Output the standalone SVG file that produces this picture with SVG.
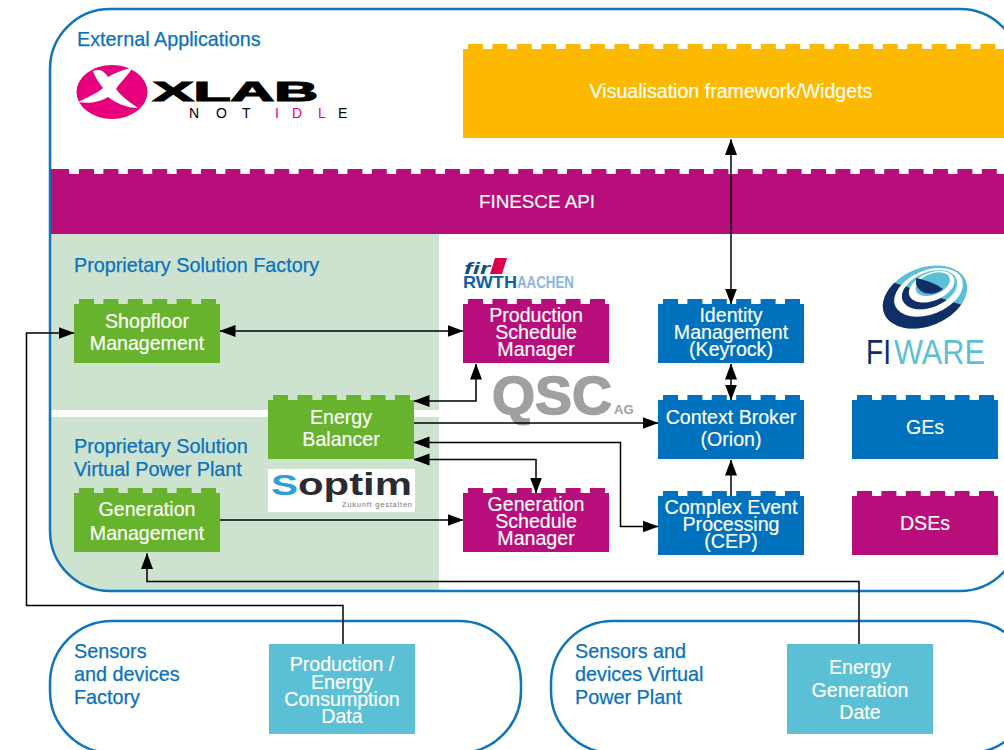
<svg xmlns="http://www.w3.org/2000/svg" width="1004" height="750" viewBox="0 0 1004 750">
<style>
text{font-family:"Liberation Sans",Arial,sans-serif}
.t{fill:#fff;font-size:19.600px;text-anchor:middle;stroke:#fff;stroke-width:.15}
.h{fill:#0a72bd;font-size:19.800px;stroke:#0a72bd;stroke-width:.25}
.mag{fill:#b80e7b}.grn{fill:#67b32e}.blu{fill:#0071bc}.tea{fill:#5bc0d5}
.c{fill:none;stroke:#000;stroke-width:1.5}
.pod{fill:none;stroke:#0f75bc;stroke-width:2.5}
</style>
<defs>
<path id="brick" d="M0 5H5V0H20V5H29.400V0H44.400V5H53.800V0H68.800V5H78.200V0H93.200V5H102.600V0H117.600V5H127V0H142V5H146V64H0Z"/>
<marker id="a" markerUnits="userSpaceOnUse" markerWidth="16" markerHeight="14" refX="15.500" refY="7" orient="auto-start-reverse"><path d="M0 1L16 7L0 13Z" fill="#000"/></marker>
<clipPath id="gb"><rect x="50" y="9" width="970" height="582" rx="60"/></clipPath>
<clipPath id="ll"><path d="M870 275L895 283L965 306V340H870Z"/></clipPath>
</defs>
<rect width="1004" height="750" fill="#fff"/>
<g clip-path="url(#gb)">
<rect x="50" y="234" width="389" height="176" fill="#cde3cf"/>
<rect x="50" y="417" width="389" height="175" fill="#cde3cf"/>
</g>
<g id="pod-external"><rect class="pod" x="50" y="9" width="970" height="582" rx="60"/><text class="h" x="77" y="45.500">External Applications</text></g>
<g id="finesce-api"><path class="mag" d="M51 174V169H69V174H79V169H94V174H103.400V169H118.400V174H127.800V169H142.800V174H152.200V169H167.200V174H176.600V169H191.600V174H201V169H216V174H225.400V169H240.400V174H249.800V169H264.800V174H274.200V169H289.200V174H298.600V169H313.600V174H323V169H338V174H347.400V169H362.400V174H371.800V169H386.800V174H396.200V169H411.200V174H420.600V169H435.600V174H445V169H460V174H469.400V169H484.400V174H493.800V169H508.800V174H518.200V169H533.200V174H542.600V169H557.600V174H567V169H582V174H591.400V169H606.400V174H615.800V169H630.800V174H640.200V169H655.200V174H664.600V169H679.600V174H689V169H704V174H713.400V169H728.400V174H737.800V169H752.800V174H762.200V169H777.200V174H786.600V169H801.600V174H811V169H826V174H835.400V169H850.400V174H859.800V169H874.800V174H884.200V169H899.200V174H908.600V169H923.600V174H933V169H948V174H957.400V169H972.400V174H981.800V169H996.800V174H1004V234H51Z"/><text class="t" x="537" y="207.500" style="font-size:18.800px">FINESCE API</text></g>
<g id="visualisation"><path fill="#fdb900" d="M463 49H468V44H483V49H492.400V44H507.400V49H516.800V44H531.800V49H541.200V44H556.200V49H565.600V44H580.600V49H590V44H605V49H614.400V44H629.400V49H638.800V44H653.800V49H663.200V44H678.200V49H687.600V44H702.600V49H712V44H727V49H736.400V44H751.400V49H760.800V44H775.800V49H785.200V44H800.200V49H809.600V44H824.600V49H834V44H849V49H858.400V44H873.400V49H882.800V44H897.800V49H907.200V44H922.200V49H931.600V44H946.600V49H956V44H971V49H980.400V44H995.400V49H1004V138H463Z"/><text class="t" x="731" y="98">Visualisation framework/Widgets</text></g>
<g id="logo-xlab">
<ellipse cx="112" cy="92" rx="35.500" ry="27" fill="#e6007e"/>
<path fill="#fff" d="M93 71C98 69 103 69 108 77C115 73 124 69 132 68C128 76 120 82 116 89C122 97 131 103 138 108C126 108 116 103 108 97C100 102 88 104 78 102C86 98 96 94 103 88C99 83 95 77 93 71Z"/>
<text x="153" y="101" font-size="27" font-weight="700" fill="#000" textLength="165" lengthAdjust="spacingAndGlyphs" stroke="#000" stroke-width="1.200">XLAB</text>
<text y="118" font-size="14" fill="#000" x="189 216 242 260 275 292 318 338">NOT <tspan fill="#e6007e">ID</tspan><tspan fill="#e6007e">L</tspan>E</text>
</g>
<g id="pod-factory"><rect class="pod" x="50" y="621" width="471" height="132" rx="62"/><text class="h" x="74" y="657.500">Sensors</text><text class="h" x="74" y="680.500">and devices</text><text class="h" x="74" y="703.500">Factory</text></g>
<g id="pod-vpp"><rect class="pod" x="551" y="621" width="480" height="132" rx="62"/><text class="h" x="575" y="657.500">Sensors and</text><text class="h" x="575" y="680.500">devices Virtual</text><text class="h" x="575" y="703.500">Power Plant</text></g>
<g id="panel-labels"><text class="h" x="74" y="271.500">Proprietary Solution Factory</text><text class="h" x="74" y="452.500">Proprietary Solution</text><text class="h" x="74" y="475.500">Virtual Power Plant</text></g>
<g id="logo-fir">
<text x="464" y="274" font-size="17" font-weight="700" font-style="italic" fill="#0f4c8a" textLength="26" lengthAdjust="spacingAndGlyphs">fir</text>
<path d="M495 258H507L502 274H490Z" fill="#d9004f"/>
<text x="463" y="288" font-size="16.700" font-weight="700" fill="#0f5fa8" textLength="54" lengthAdjust="spacingAndGlyphs">RWTH</text>
<text x="517" y="288" font-size="16.700" font-weight="700" fill="#8fb4e3" textLength="57" lengthAdjust="spacingAndGlyphs">AACHEN</text>
</g>
<g id="logo-qsc"><text x="492" y="414" font-size="54" font-weight="700" fill="#a0a0a0" stroke="#a0a0a0" stroke-width="1.500" textLength="120" lengthAdjust="spacingAndGlyphs">QSC</text><text x="614" y="414" font-size="13" font-weight="700" fill="#a0a0a0">AG</text></g>
<g id="logo-soptim"><rect x="268" y="469" width="147" height="43" fill="#fff"/>
<text x="271" y="495" font-size="30" font-weight="700" fill="#2d9fdc" textLength="27" lengthAdjust="spacingAndGlyphs">S</text>
<text x="298" y="495" font-size="32" font-weight="700" fill="#2b2b33" textLength="114" lengthAdjust="spacingAndGlyphs">optim</text>
<text x="342" y="507" font-size="7.500" fill="#777" textLength="70">Zukunft gestalten</text></g>
<g id="logo-fiware">
<g transform="rotate(-22 925 297)"><ellipse cx="925" cy="297" rx="44" ry="29" fill="#5bc0d5"/></g>
<g clip-path="url(#ll)"><g transform="rotate(-22 925 297)"><ellipse cx="925" cy="297" rx="44" ry="29" fill="#0f2f66"/></g></g>
<g transform="rotate(-22 925 297)"><ellipse cx="930" cy="294" rx="36" ry="22" fill="#fff"/><ellipse cx="932" cy="292" rx="29" ry="17.500" fill="#5bc0d5"/></g>
<g clip-path="url(#ll)"><g transform="rotate(-22 925 297)"><ellipse cx="932" cy="292" rx="29" ry="17.500" fill="#0f2f66"/></g></g>
<g transform="rotate(-22 925 297)"><ellipse cx="935" cy="290" rx="24" ry="14" fill="#fff"/><ellipse cx="937" cy="288" rx="18" ry="10.500" fill="#5bc0d5"/></g>
<path d="M916 278C925 280 935 283 943 289C935 296 920 296 916 284Z" fill="#0f2f66"/>
<text x="866" y="364" font-size="35" font-family="Lato,sans-serif" fill="#0f2f66" textLength="25" lengthAdjust="spacingAndGlyphs">FI</text>
<text x="894" y="364" font-size="35" font-family="Lato,sans-serif" fill="#5bc0d5" textLength="91" lengthAdjust="spacingAndGlyphs">WARE</text>
</g>
<g id="connectors">
<path class="c" d="M731 139.500V304" marker-start="url(#a)" marker-end="url(#a)"/>
<path class="c" d="M220 331H463" marker-start="url(#a)" marker-end="url(#a)"/>
<path class="c" d="M414 401H476V364" marker-start="url(#a)" marker-end="url(#a)"/>
<path class="c" d="M414 423H658" marker-end="url(#a)"/>
<path class="c" d="M414 442.500H620.500V526.500H658" marker-start="url(#a)" marker-end="url(#a)"/>
<path class="c" d="M414 459.500H536V493" marker-start="url(#a)" marker-end="url(#a)"/>
<path class="c" d="M220 520H463" marker-end="url(#a)"/>
<path class="c" d="M731 364V400" marker-start="url(#a)" marker-end="url(#a)"/>
<path class="c" d="M731 496V460" marker-end="url(#a)"/>
<path class="c" d="M343 644V605.500H26.500V333H74" marker-end="url(#a)"/>
<path class="c" d="M859 644V581.500H147V553.500" marker-end="url(#a)"/>
</g>
<g id="shopfloor"><use href="#brick" x="74" y="299" class="grn"/><text class="t" x="147" y="327.500">Shopfloor</text><text class="t" x="147" y="349.500">Management</text></g>
<g id="energy-balancer"><use href="#brick" x="268" y="395" class="grn"/><text class="t" x="341" y="423.500">Energy</text><text class="t" x="341" y="445.500">Balancer</text></g>
<g id="generation-mgmt"><use href="#brick" x="74" y="488" class="grn"/><text class="t" x="147" y="515.500">Generation</text><text class="t" x="147" y="539.500">Management</text></g>
<g id="production-schedule"><use href="#brick" x="463" y="299" class="mag"/><text class="t" x="536" y="321.500">Production</text><text class="t" x="536" y="338.500">Schedule</text><text class="t" x="536" y="355.500">Manager</text></g>
<g id="generation-schedule"><use href="#brick" x="463" y="488" class="mag"/><text class="t" x="536" y="510.500">Generation</text><text class="t" x="536" y="527.500">Schedule</text><text class="t" x="536" y="544.500">Manager</text></g>
<g id="identity"><use href="#brick" x="658" y="299" class="blu"/><text class="t" x="731" y="321.500">Identity</text><text class="t" x="731" y="338.500">Management</text><text class="t" x="731" y="355.500">(Keyrock)</text></g>
<g id="context-broker"><use href="#brick" x="658" y="395" class="blu"/><text class="t" x="731" y="423.500">Context Broker</text><text class="t" x="731" y="445.500">(Orion)</text></g>
<g id="cep"><use href="#brick" x="658" y="491" class="blu"/><text class="t" x="731" y="513.500">Complex Event</text><text class="t" x="731" y="530.500">Processing</text><text class="t" x="731" y="547.500">(CEP)</text></g>
<g id="ges"><use href="#brick" x="852" y="395" class="blu"/><text class="t" x="925" y="434">GEs</text></g>
<g id="dses"><use href="#brick" x="852" y="491" class="mag"/><text class="t" x="925" y="530">DSEs</text></g>
<g id="production-data"><rect class="tea" x="269" y="644" width="146" height="90"/><text class="t" x="342" y="670.500">Production /</text><text class="t" x="342" y="688.500">Energy</text><text class="t" x="342" y="705.500">Consumption</text><text class="t" x="342" y="722.500">Data</text></g>
<g id="energy-data"><rect class="tea" x="787" y="644" width="146" height="90"/><text class="t" x="860" y="673.500">Energy</text><text class="t" x="860" y="696.500">Generation</text><text class="t" x="860" y="718.500">Date</text></g>
</svg>
